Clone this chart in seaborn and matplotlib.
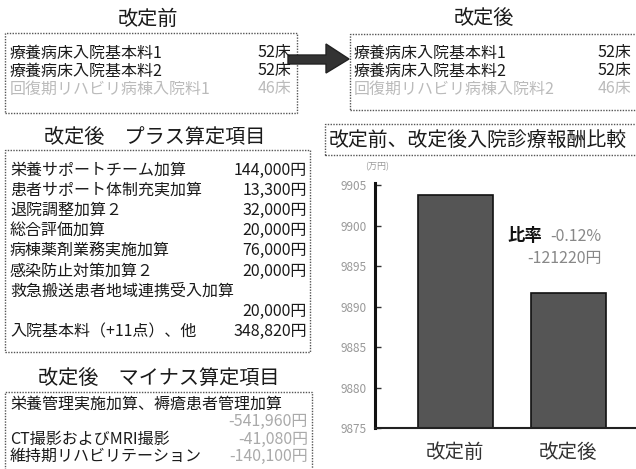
import numpy as np
import matplotlib
matplotlib.use("Agg")
import matplotlib.pyplot as plt
import matplotlib.patches as mpatches
import seaborn as sns

# ---------------- data ----------------
categories = ["改定前", "改定後"]
values = [9903.8, 9891.7]          # 万円
yticks = [9875, 9880, 9885, 9890, 9895, 9900, 9905]

before_items = ["療養病床入院基本料1", "療養病床入院基本料2", "回復期リハビリ病棟入院料1"]
before_beds = ["52床", "52床", "46床"]
after_items = ["療養病床入院基本料1", "療養病床入院基本料2", "回復期リハビリ病棟入院料2"]
after_beds = ["52床", "52床", "46床"]

plus_items = ["栄養サポートチーム加算", "患者サポート体制充実加算", "退院調整加算２",
              "総合評価加算", "病棟薬剤業務実施加算", "感染防止対策加算２",
              "救急搬送患者地域連携受入加算", "", "入院基本料（+11点）、他"]
plus_amounts = ["144,000円", "13,300円", "32,000円", "20,000円", "76,000円",
                "20,000円", "", "20,000円", "348,820円"]

minus_items = ["栄養管理実施加算、褥瘡患者管理加算", "", "CT撮影およびMRI撮影",
               "維持期リハビリテーション"]
minus_amounts = ["", "-541,960円", "-41,080円", "-140,100円"]

ratio_text = "-0.12%"
diff_text = "-121220円"

# ---------------- style ----------------
sns.set_theme(style="white")
plt.rcParams['font.family'] = ['Noto Sans CJK JP', 'DejaVu Sans']

W, H = 636, 469
fig = plt.figure(figsize=(W / 100, H / 100), dpi=100)
fig.patch.set_facecolor("white")


def P(x, y):
    return (x / W, 1 - y / H)


def text(x, y, s, size=11.5, color="#1a1a1a", ha="left", weight="normal"):
    fx, fy = P(x, y)
    fig.text(fx, fy, s, fontsize=size, color=color, ha=ha, va="center",
             fontweight=weight)


def box(x0, y0, x1, y1, ls=(0, (1, 1)), lw=1.0, color="#555555"):
    fx0, fy1 = P(x0, y1)
    fx1, fy0 = P(x1, y0)
    r = mpatches.Rectangle((fx0, fy1), fx1 - fx0, fy0 - fy1, transform=fig.transFigure,
                           fill=False, edgecolor=color, linestyle=ls, linewidth=lw,
                           clip_on=False)
    fig.patches.append(r)


# ---------------- top boxes ----------------
text(148, 19, "改定前", size=14.5, ha="center")
box(5, 33, 297, 113)
ys = [53, 71, 89]
for i, (it, bd) in enumerate(zip(before_items, before_beds)):
    c = "#bbbbbb" if i == 2 else "#1a1a1a"
    text(10, ys[i], it, color=c)
    text(258, ys[i], bd, color=c)

text(484, 19, "改定後", size=14.5, ha="center")
box(350, 34, 660, 110)
for i, (it, bd) in enumerate(zip(after_items, after_beds)):
    c = "#bbbbbb" if i == 2 else "#1a1a1a"
    text(354, ys[i], it, color=c)
    text(598, ys[i], bd, color=c)

# arrow
arrow_pts = [(288, 55), (326, 55), (326, 44), (349, 59), (326, 73), (326, 64), (288, 64)]
poly = mpatches.Polygon([P(x, y) for x, y in arrow_pts], closed=True,
                        transform=fig.transFigure, facecolor="#333333",
                        edgecolor="#222222", clip_on=False)
fig.patches.append(poly)

# ---------------- plus box ----------------
text(155, 137, "改定後　プラス算定項目", size=14.5, ha="center")
box(5, 150, 310, 352)
y = 170
for it, am in zip(plus_items, plus_amounts):
    if it:
        text(10, y, it)
    if am:
        text(307, y, am, ha="right")
    y += 20.2

# ---------------- minus box ----------------
text(159, 378, "改定後　マイナス算定項目", size=14.5, ha="center")
box(5, 392, 312, 520)
y = 404
for it, am in zip(minus_items, minus_amounts):
    if it:
        text(10, y, it)
    if am:
        text(308, y, am, ha="right", color="#aaaaaa")
    y += 17.6

# ---------------- chart title ----------------
box(325, 124, 660, 155)
text(329, 140, "改定前、改定後入院診療報酬比較", size=14.3)

# ---------------- bar chart ----------------
ax_l, ax_t, ax_r, ax_b = 375, 183, 660, 428
ax = fig.add_axes([ax_l / W, 1 - ax_b / H, (ax_r - ax_l) / W, (ax_b - ax_t) / H])
sns.barplot(x=categories, y=values, color="#555555", edgecolor="#111111",
            linewidth=1.2, width=0.66, ax=ax, saturation=1)
ax.set_ylim(9875, 9905.3)
ax.set_xlim(-0.71, 1.81)
ax.set_yticks(yticks)
ax.set_yticklabels([str(t) for t in yticks], fontsize=8.5, color="#999999")
ax.tick_params(axis="y", direction="in", length=4, width=1, color="#333333", pad=6, left=True)
ax.tick_params(axis="x", length=0, pad=10, labelsize=14, labelcolor="#333333")
ax.set_xlabel("")
ax.set_ylabel("")
ax.set_facecolor("none")
for s in ["top", "right"]:
    ax.spines[s].set_visible(False)
ax.spines["left"].set_linewidth(2.2)
ax.spines["left"].set_color("#111111")
ax.spines["bottom"].set_linewidth(1.5)
ax.spines["bottom"].set_color("#222222")
ax.grid(False)

text(377, 167, "(万円)", size=6.5, color="#999999", ha="center")

# annotations
text(507, 236, "比率", size=12.5, color="#111111", weight="bold")
text(550, 236, ratio_text, size=11.5, color="#888888")
text(565, 258, diff_text, size=11.5, color="#888888", ha="center")

fig.savefig("out.png", dpi=100, facecolor="white")
